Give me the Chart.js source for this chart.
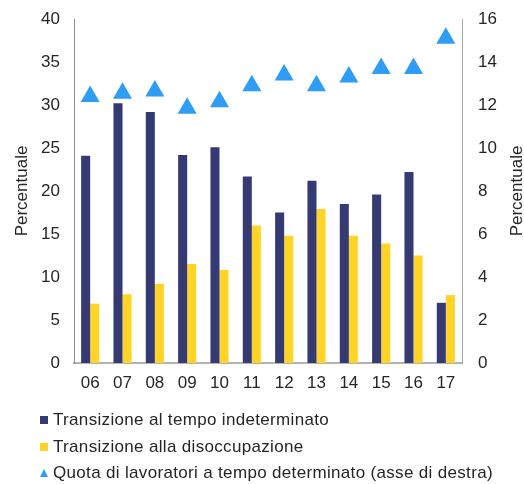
<!DOCTYPE html>
<html>
<head>
<meta charset="utf-8">
<script src="https://cdn.jsdelivr.net/npm/chart.js@4"></script>
<style>
  body { margin: 0; background: #fff; font-family: "Liberation Sans", Arial, sans-serif; }
  #wrap { position: relative; width: 524px; height: 484px; }
  #legend { position: absolute; left: 40px; top: 407px; color: #262626; font-size: 17px; letter-spacing: 0.33px; }
  #legend div { height: 26.5px; line-height: 26px; white-space: nowrap; }
  #legend span.sw { display: inline-block; width: 8px; height: 8px; margin-right: 5px; vertical-align: 1px; }
  #legend span.tri { display: inline-block; width: 0; height: 0; margin-right: 5px; vertical-align: 1px;
    border-left: 4px solid transparent; border-right: 4px solid transparent; border-bottom: 8px solid; }
</style>
</head>
<body>
<div id="wrap">
  <canvas id="chart"></canvas>
  <div id="legend"></div>
</div>
<script>
// ==================== DATA ====================
const years = ["06", "07", "08", "09", "10", "11", "12", "13", "14", "15", "16", "17"];
const toPermanent = [24.1, 30.2, 29.2, 24.2, 25.1, 21.7, 17.5, 21.2, 18.5, 19.6, 22.2, 7.0];
const toUnemployment = [6.9, 8.0, 9.2, 11.5, 10.8, 16.0, 14.8, 17.9, 14.8, 13.9, 12.5, 7.9];
const fixedTermShare = [12.4, 12.55, 12.65, 11.85, 12.15, 12.9, 13.4, 12.9, 13.3, 13.7, 13.7, 15.1];

const seriesNames = [
  "Transizione al tempo indeterminato",
  "Transizione alla disoccupazione",
  "Quota di lavoratori a tempo determinato (asse di destra)"
];
const colors = ["#353a72", "#ffd426", "#2f9cf6"];
const axisTitle = "Percentuale";

const FONT = "'Liberation Sans', Arial, sans-serif";
const TEXT = "#262626";

// ==================== LEGEND (html) ====================
const legend = document.getElementById("legend");
seriesNames.forEach((name, i) => {
  const row = document.createElement("div");
  const mark = document.createElement("span");
  mark.className = i === 2 ? "tri" : "sw";
  if (i === 2) mark.style.color = colors[i];
  else mark.style.background = colors[i];
  row.appendChild(mark);
  row.appendChild(document.createTextNode(name));
  legend.appendChild(row);
});

// ==================== AXIS TITLES ====================
// both titles read bottom-to-top, so draw them by hand
const axisTitles = {
  id: "axisTitles",
  afterDraw(chart) {
    const { ctx, chartArea } = chart;
    const midY = (chartArea.top + chartArea.bottom) / 2;
    ctx.save();
    ctx.font = "17px " + FONT;
    ctx.fillStyle = TEXT;
    ctx.textAlign = "center";
    ctx.textBaseline = "middle";
    [chart.scales.y.left + 22, chart.scales.y1.right - 7].forEach(x => {
      ctx.save();
      ctx.translate(x, midY);
      ctx.rotate(-Math.PI / 2);
      ctx.fillText(axisTitle, 0, 0);
      ctx.restore();
    });
    ctx.restore();
  }
};

// fixed scale boxes so the plot area lands where the reference has it
const fitSide = w => s => { s.width = w; s.paddingTop = 0; s.paddingBottom = 0; };

// ==================== CHART ====================
new Chart(document.getElementById("chart"), {
  data: {
    labels: years,
    datasets: [
      {
        type: "line", label: seriesNames[2], data: fixedTermShare, yAxisID: "y1",
        showLine: false, pointStyle: "triangle", pointRadius: 11, pointHoverRadius: 11,
        backgroundColor: colors[2], borderColor: colors[2], borderWidth: 0, order: 0
      },
      {
        type: "bar", label: seriesNames[0], data: toPermanent, yAxisID: "y",
        backgroundColor: colors[0], categoryPercentage: 0.56, barPercentage: 1, order: 1
      },
      {
        type: "bar", label: seriesNames[1], data: toUnemployment, yAxisID: "y",
        backgroundColor: colors[1], categoryPercentage: 0.56, barPercentage: 1, order: 1
      }
    ]
  },
  options: {
    responsive: true,
    maintainAspectRatio: false,
    animation: false,
    layout: { padding: { top: 19, bottom: 89, left: 0, right: 0 } },
    plugins: { legend: { display: false }, tooltip: { enabled: false } },
    scales: {
      x: {
        grid: { display: false, drawTicks: false },
        border: { display: true, color: "#b3b3b3", width: 2 },
        ticks: { color: TEXT, font: { family: FONT, size: 17 }, padding: 10, maxRotation: 0 },
        afterFit: s => { s.height = 32; s.paddingLeft = 0; s.paddingRight = 0; }
      },
      y: {
        position: "left", min: 0, max: 40,
        grid: { display: false, drawTicks: false },
        border: { display: true, color: "#8c8c8c", width: 1, dash: [4, 3] },
        ticks: { stepSize: 5, color: TEXT, font: { family: FONT, size: 17 }, padding: 14 },
        afterFit: fitSide(74)
      },
      y1: {
        position: "right", min: 0, max: 16,
        grid: { display: false, drawTicks: false },
        border: { display: true, color: "#a6a6a6", width: 1 },
        ticks: { stepSize: 2, color: TEXT, font: { family: FONT, size: 17 }, padding: 16 },
        afterFit: fitSide(62)
      }
    }
  },
  plugins: [axisTitles]
});
</script>
</body>
</html>
